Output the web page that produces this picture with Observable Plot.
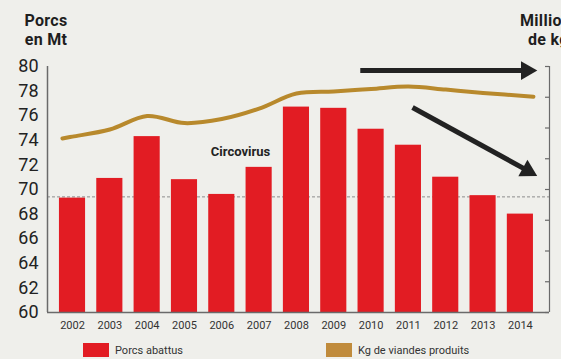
<!DOCTYPE html>
<html><head><meta charset="utf-8">
<script src="https://cdn.jsdelivr.net/npm/d3@7"></script>
<script src="https://cdn.jsdelivr.net/npm/@observablehq/plot@0.6"></script>
<style>
body{margin:0;background:#efefeb;}
#wrap{position:relative;width:561px;height:359px;overflow:hidden;background:#efefeb;font-family:Roboto,sans-serif;}
.t{position:absolute;font-weight:700;font-size:16px;line-height:19px;letter-spacing:0.3px;color:#1e1e1e;white-space:nowrap;}
.lg{position:absolute;top:343px;height:14px;font-size:11px;color:#333;display:flex;align-items:center;white-space:nowrap;}
.sw{width:26px;height:14px;margin-right:6px;}
</style></head><body><div id="wrap">
<div class="t" style="left:14px;top:11px;width:64px;text-align:center">Porcs</div>
<div class="t" style="left:14px;top:30px;width:64px;text-align:center">en Mt</div>
<div class="t" style="left:520px;top:11px">Millions</div>
<div class="t" style="left:528px;top:30px">de kg</div>
</div>
<script>
// Data
const years = [2002,2003,2004,2005,2006,2007,2008,2009,2010,2011,2012,2013,2014];
const porcsAbattus = [69.3,70.9,74.3,70.8,69.6,71.8,76.7,76.6,74.9,73.6,71.0,69.5,68.0];
const lineYears = [2001.73,2002,2003,2004,2005,2006,2007,2008,2009,2010,2011,2012,2013,2014.35];
const kgViandes = [5.66,5.72,5.95,6.39,6.16,6.29,6.63,7.12,7.19,7.27,7.35,7.25,7.14,7.02]; // right-axis units
const yTicks = [60,62,64,66,68,70,72,74,76,78,80];
const rightTicks = [0,1,2,3,4,5,6,7,8];
const refValue = 69.4;
const seriesNames = ["Porcs abattus","Kg de viandes produits"];
const annotation = {label:"Circovirus", x:2006.5, y:73.1};
const arrows = [
  {x1:2009.71, y1:79.67, x2:2014.43, y2:79.67},
  {x1:2011.11, y1:76.67, x2:2014.43, y2:71.14}
];

// Layout / scales
const W = 561, H = 359, mTop = 66, mBottom = 47, mLeft = 47, mRight = 12;
const xDomain = [2001.33, 2014.78];
const yDomain = [60, 80];
const rightDomain = [0, 8];
const toLeft = r => yDomain[0] + (r - rightDomain[0]) * (yDomain[1]-yDomain[0])/(rightDomain[1]-rightDomain[0]);
const pxX = (W - mLeft - mRight)/(xDomain[1]-xDomain[0]);
const pxY = (H - mTop - mBottom)/(yDomain[1]-yDomain[0]);

const red = "#e21c23", gold = "#b8892c", dark = "#222";
const bars = years.map((y,i)=>({year:y, value:porcsAbattus[i]}));
const line = lineYears.map((y,i)=>({year:y, r:kgViandes[i]}));
const heads = arrows.map(a=>{
  const dxp = (a.x2-a.x1)*pxX, dyp = -(a.y2-a.y1)*pxY;
  const len = Math.hypot(dxp,dyp), back = 10;
  const ang = Math.atan2(dyp,dxp)*180/Math.PI;
  return {...a, sx: a.x2 - (dxp/len*back)/pxX, sy: a.y2 + (dyp/len*back)/pxY, rot: 90+ang};
});

const plot = Plot.plot({
  width: W, height: H,
  marginTop: mTop, marginBottom: mBottom, marginLeft: mLeft, marginRight: mRight,
  x: {domain: xDomain},
  y: {domain: yDomain},
  style: {background:"transparent", fontFamily:"Roboto, sans-serif"},
  marks: [
    Plot.ruleY([refValue], {stroke:"#8c8c8c", strokeWidth:1, strokeDasharray:"3,2"}),
    Plot.rectY(bars, {x1: d=>d.year-0.35, x2: d=>d.year+0.35, y1: yDomain[0], y2: "value", fill: red}),
    Plot.line(line, {x:"year", y: d=>toLeft(d.r), stroke: gold, strokeWidth: 4, curve: "catmull-rom"}),
    Plot.ruleX([xDomain[0]], {y1: yDomain[0], y2: yDomain[1], stroke:"#6a6a6a", strokeWidth:1.5}),
    Plot.ruleX([xDomain[1]], {y1: yDomain[0], y2: yDomain[1], stroke:"#6a6a6a", strokeWidth:1.2}),
    Plot.ruleY(rightTicks, {y: d=>toLeft(d), x1: xDomain[1]-4/pxX, x2: xDomain[1], stroke:"#6a6a6a", strokeWidth:1.2}),
    Plot.ruleY([yDomain[0]], {x1: xDomain[0], x2: xDomain[1], stroke:"#6a6a6a", strokeWidth:1.5}),
    Plot.text([annotation], {x:"x", y:"y", text:"label", fontWeight:"bold", fontSize:13, fill: dark}),
    Plot.link(heads, {x1:"x1", y1:"y1", x2:"sx", y2:"sy", stroke:"#222", strokeWidth:5}),
    Plot.dot(heads, {x:"sx", y:"sy", symbol:"triangle", r:7, rotate:"rot", fill:"#222", stroke:"none"}),
    Plot.axisY(yTicks, {tickSize:0, tickPadding:9, fontSize:18, color:"#222", label:null}),
    Plot.axisX(years, {tickSize:0, tickPadding:9, fontSize:11, color:"#333", tickFormat:d=>String(d), label:null})
  ]
});
plot.style.position = "absolute";
plot.style.left = "0"; plot.style.top = "0";
const wrap = document.getElementById("wrap");
wrap.insertBefore(plot, wrap.firstChild);

const legendColors = [red, "#c08b3c"];
const legendLeft = [83, 326];
seriesNames.forEach((n,i)=>{
  const d = document.createElement("div");
  d.className = "lg";
  d.style.left = legendLeft[i]+"px";
  d.innerHTML = `<span class="sw" style="background:${legendColors[i]}"></span>${n}`;
  wrap.appendChild(d);
});
</script></body></html>
